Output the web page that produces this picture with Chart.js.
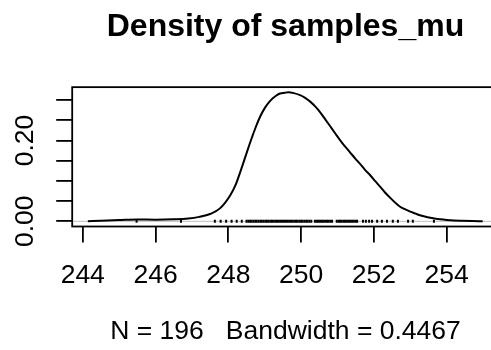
<!DOCTYPE html>
<html>
<head>
<meta charset="utf-8">
<script src="https://cdn.jsdelivr.net/npm/chart.js@4.4.1/dist/chart.umd.min.js"></script>
<style>
  html, body { margin: 0; padding: 0; overflow: hidden; background: #ffffff; }
  canvas { display: block; }
</style>
</head>
<body>
<canvas id="c" width="510" height="350" style="width:510px;height:350px"></canvas>
<script>
// ---- data ----
const titleText = 'Density of samples_mu';
const subText = 'N = 196   Bandwidth = 0.4467';

// density curve (x, density)
const densityX = [244.14, 244.5, 245.0, 245.5, 246.0, 246.5, 246.9, 247.2, 247.5, 247.77, 248.05, 248.2, 248.32, 248.47, 248.6, 248.75, 248.87, 249.0, 249.15, 249.3, 249.42, 249.55, 249.65, 249.8, 249.97, 250.1, 250.25, 250.4, 250.52, 250.65, 250.8, 250.95, 251.07, 251.2, 251.35, 251.5, 251.62, 251.75, 251.9, 252.05, 252.17, 252.3, 252.45, 252.6, 252.72, 252.85, 253.0, 253.15, 253.27, 253.4, 253.55, 253.7, 253.82, 254.0, 254.2, 254.4, 254.7, 254.99];
const densityY = [0.0003, 0.0012, 0.003, 0.0048, 0.0042, 0.005, 0.007, 0.011, 0.018, 0.032, 0.064, 0.090, 0.120, 0.160, 0.195, 0.232, 0.258, 0.280, 0.298, 0.310, 0.316, 0.318, 0.319, 0.317, 0.312, 0.306, 0.296, 0.283, 0.270, 0.254, 0.235, 0.216, 0.201, 0.186, 0.170, 0.154, 0.142, 0.128, 0.114, 0.098, 0.086, 0.072, 0.058, 0.045, 0.036, 0.030, 0.024, 0.019, 0.015, 0.012, 0.009, 0.0065, 0.005, 0.0033, 0.002, 0.0013, 0.0006, 0.0003];

// rug of samples
const rugValues = [245.48, 246.70, 247.63, 247.79, 247.94, 248.09, 248.23, 248.37,
  248.50, 248.55, 248.60, 248.64, 248.69, 248.74, 248.78, 248.83, 248.88, 248.92, 248.97,
  249.02, 249.06, 249.11, 249.16, 249.20, 249.25, 249.30, 249.34, 249.39, 249.44, 249.48,
  249.53, 249.58, 249.62, 249.67, 249.72, 249.76, 249.81, 249.86, 249.90, 249.95, 250.00,
  250.04, 250.09, 250.14, 250.18, 250.23, 250.28, 250.38, 250.43, 250.47, 250.52, 250.57,
  250.61, 250.66, 250.71, 250.75, 250.80, 250.85, 250.98, 251.03, 251.07, 251.12, 251.17,
  251.21, 251.26, 251.31, 251.35, 251.40, 251.45, 251.50, 251.54,
  251.70, 251.78, 251.87, 251.95, 252.09, 252.22, 252.36, 252.52, 252.66, 252.94, 253.07, 253.65];

// axes
const xTickValues = [244, 246, 248, 250, 252, 254];
const xTickLabels = ['244', '246', '248', '250', '252', '254'];
const yTickValues = [0, 0.05, 0.10, 0.15, 0.20, 0.25, 0.30];
const yTickLabels = ['0.00', '', '', '', '0.20', '', ''];
const xRange = [243.71, 255.43];
const yRange = [-0.0128, 0.3318];

// ---- drawing ----
const FONT = '"Liberation Sans", Arial, Helvetica, sans-serif';

const framePlugin = {
  id: 'rframe',
  beforeDatasetsDraw(chart) {
    const {ctx, chartArea, scales} = chart;
    const y0 = scales.y.getPixelForValue(0);
    ctx.save();
    ctx.strokeStyle = '#bebebe';
    ctx.lineWidth = 1;
    ctx.beginPath();
    ctx.moveTo(chartArea.left, y0);
    ctx.lineTo(chartArea.right, y0);
    ctx.stroke();
    ctx.restore();
  },
  afterDatasetsDraw(chart) {
    const {ctx, chartArea} = chart;
    ctx.save();
    ctx.strokeStyle = '#000';
    ctx.lineWidth = 1.8;
    ctx.strokeRect(chartArea.left, chartArea.top, chartArea.right - chartArea.left, chartArea.bottom - chartArea.top);
    ctx.restore();
  }
};

new Chart(document.getElementById('c'), {
  type: 'scatter',
  data: {
    datasets: [
      {
        data: densityX.map((x, i) => ({x, y: densityY[i]})),
        showLine: true,
        borderColor: '#000',
        borderWidth: 2,
        pointRadius: 0,
        cubicInterpolationMode: 'monotone',
        fill: false
      },
      {
        data: rugValues.map(x => ({x, y: 0})),
        pointStyle: 'line',
        rotation: 90,
        radius: 1.5,
        borderWidth: 2,
        borderColor: '#000',
        backgroundColor: '#000'
      }
    ]
  },
  options: {
    responsive: false,
    devicePixelRatio: 1,
    animation: false,
    events: [],
    layout: { padding: { left: 0, right: 11.3, top: 0, bottom: 0 } },
    plugins: { legend: { display: false }, tooltip: { enabled: false }, title: { display: false } },
    scales: {
      x: {
        type: 'linear', position: 'bottom',
        min: xRange[0], max: xRange[1],
        afterBuildTicks: s => { s.ticks = xTickValues.map(v => ({value: v})); },
        afterFit: s => { s.height = 123.5; },
        ticks: {
          autoSkip: false, maxRotation: 0, minRotation: 0, padding: 16.8,
          color: '#000', font: { family: FONT, size: 26.5 },
          callback: (v, i) => xTickLabels[i]
        },
        grid: { display: true, drawOnChartArea: false, drawTicks: true, tickLength: 16, color: '#000', lineWidth: 1.8 },
        border: { display: false },
        title: { display: true, text: subText, color: '#000', font: { family: FONT, size: 26.5 }, padding: { top: 0, bottom: 2.9 } }
      },
      x2: {
        type: 'linear', position: 'top', axis: 'x',
        min: xRange[0], max: xRange[1],
        afterFit: s => { s.height = 87.15; },
        ticks: { display: false },
        grid: { display: false },
        border: { display: false },
        title: { display: true, text: titleText, color: '#000', font: { family: FONT, size: 32, weight: 'bold' }, padding: { top: 8, bottom: 0 } }
      },
      y: {
        type: 'linear', position: 'left',
        min: yRange[0], max: yRange[1],
        afterBuildTicks: s => { s.ticks = yTickValues.map(v => ({value: v})); },
        afterFit: s => { s.width = 72.2; },
        ticks: {
          autoSkip: false, minRotation: 90, maxRotation: 90, padding: 4.6, crossAlign: 'center',
          color: '#000', font: { family: FONT, size: 26.5 },
          callback: (v, i) => yTickLabels[i]
        },
        grid: { display: true, drawOnChartArea: false, drawTicks: true, tickLength: 16, color: '#000', lineWidth: 1.8 },
        border: { display: false }
      }
    }
  },
  plugins: [framePlugin]
});
</script>
</body>
</html>
